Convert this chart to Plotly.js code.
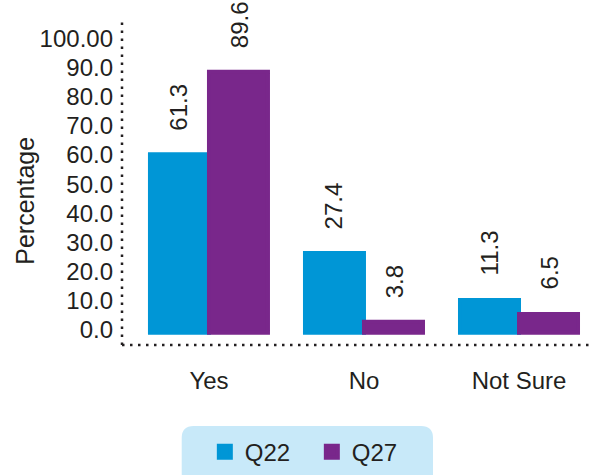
<!DOCTYPE html>
<html>
<head>
<meta charset="utf-8">
<script src="https://cdn.plot.ly/plotly-3.0.1.min.js"></script>
<style>html,body{margin:0;padding:0;background:#fff;}#chart{width:590px;height:475px;}</style>
</head>
<body>
<div id="chart"></div>
<script>
// ---- data ----
var categories = ["Yes", "No", "Not Sure"];
var seriesNames = ["Q22", "Q27"];
var q22Values = [61.3, 27.4, 11.3];
var q27Values = [89.6, 3.8, 6.5];
var yTickValues = [0, 10, 20, 30, 40, 50, 60, 70, 80, 90, 100];
var yTickLabels = ["0.0", "10.0", "20.0", "30.0", "40.0", "50.0", "60.0", "70.0", "80.0", "90.0", "100.00"];
var yAxisTitle = "Percentage";

// ---- styles ----
var BLUE = "#0096d6", PURPLE = "#79278b", TEXT = "#231f20";
var FONT = "Liberation Sans, Arial, Helvetica, sans-serif";
var FS = 24;

function barTrace(name, vals, color) {
  return {
    type: "bar", name: name, x: categories, y: vals,
    marker: {color: color, line: {color: color, width: 4}},
    hoverinfo: "x+y+name"
  };
}
var traces = [barTrace(seriesNames[0], q22Values, BLUE), barTrace(seriesNames[1], q27Values, PURPLE)];

// value labels (rotated) above each bar
var annotations = [];
[q22Values, q27Values].forEach(function (vals, si) {
  vals.forEach(function (v, ci) {
    annotations.push({
      x: categories[ci], y: v, xref: "x", yref: "y",
      text: v.toFixed(1), showarrow: false, textangle: -90,
      xanchor: "center", yanchor: "bottom",
      xshift: si === 0 ? -30 : 30, yshift: 22,
      font: {family: FONT, size: FS, color: TEXT}
    });
  });
});
// y-axis title
annotations.push({
  text: yAxisTitle, xref: "paper", yref: "paper", x: -0.208, y: 0.44,
  showarrow: false, textangle: -90, xanchor: "center", yanchor: "middle",
  font: {family: FONT, size: 25, color: TEXT}
});

function roundedRect(x0, y0, x1, y1, rx, ry) {
  return "M" + (x0 + rx) + "," + y0 + " L" + (x1 - rx) + "," + y0 +
    " Q" + x1 + "," + y0 + " " + x1 + "," + (y0 - ry) +
    " L" + x1 + "," + (y1 + ry) +
    " Q" + x1 + "," + y1 + " " + (x1 - rx) + "," + y1 +
    " L" + (x0 + rx) + "," + y1 +
    " Q" + x0 + "," + y1 + " " + x0 + "," + (y1 + ry) +
    " L" + x0 + "," + (y0 - ry) +
    " Q" + x0 + "," + y0 + " " + (x0 + rx) + "," + y0 + " Z";
}

var dotted = {color: TEXT, width: 2.5, dash: "2.5px,5.5px"};
var shapes = [
  {type: "path", xref: "paper", yref: "paper", layer: "below",
   path: roundedRect(0.1276, -0.2477, 0.6645, -0.43, 0.0256, 0.0363),
   fillcolor: "#c8e9f9", line: {width: 0}},
  {type: "line", xref: "paper", yref: "paper", x0: 0, x1: 0, y0: 0, y1: 1, line: dotted},
  {type: "line", xref: "paper", yref: "paper", x0: 0, x1: 1, y0: 0, y1: 0, line: dotted}
];

var layout = {
  width: 590, height: 475,
  margin: {l: 122, r: 0, t: 18, b: 126, pad: 0},
  paper_bgcolor: "#ffffff", plot_bgcolor: "rgba(0,0,0,0)",
  font: {family: FONT, size: FS, color: TEXT},
  barmode: "group", bargap: 0.2387, bargroupgap: 0,
  showlegend: true,
  legend: {
    orientation: "h", x: 0.177, xanchor: "left", y: -0.328, yanchor: "middle",
    entrywidth: 62,
    bgcolor: "rgba(0,0,0,0)", font: {family: FONT, size: FS, color: TEXT},
    itemclick: false, itemdoubleclick: false
  },
  xaxis: {
    type: "category", range: [-0.561, 2.458], showgrid: false, zeroline: false,
    showline: false, ticks: "", ticklabelstandoff: 19, fixedrange: true,
    tickfont: {family: FONT, size: FS, color: TEXT}
  },
  yaxis: {
    range: [-4.17, 108.03], showgrid: false, zeroline: false, showline: false,
    ticks: "", tickvals: yTickValues, ticktext: yTickLabels,
    ticklabelstandoff: 8, ticklabelshift: -3, fixedrange: true,
    tickfont: {family: FONT, size: FS, color: TEXT}
  },
  annotations: annotations,
  shapes: shapes
};

Plotly.newPlot("chart", traces, layout, {displayModeBar: false});
</script>
</body>
</html>
